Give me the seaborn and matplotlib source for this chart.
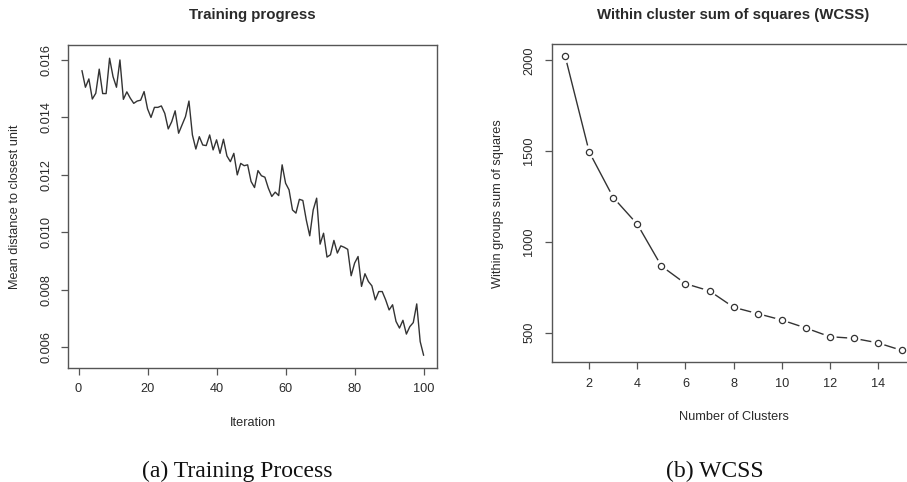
import numpy as np
import pandas as pd
import seaborn as sns
import matplotlib.pyplot as plt

# (a) training progress, mean distance to closest unit per iteration
iterations = list(range(1, 101))
mean_dist = [
    0.01563, 0.01505, 0.01534, 0.01464, 0.01484, 0.01568, 0.01483, 0.01483, 0.01606, 0.01542,
    0.01505, 0.01600, 0.01463, 0.01489, 0.01467, 0.01449, 0.01457, 0.01460, 0.01490, 0.01430,
    0.01400, 0.01435, 0.01435, 0.01440, 0.01414, 0.01360, 0.01385, 0.01423, 0.01345, 0.01374,
    0.01403, 0.01457, 0.01339, 0.01290, 0.01333, 0.01304, 0.01302, 0.01339, 0.01287, 0.01322,
    0.01275, 0.01324, 0.01266, 0.01246, 0.01275, 0.01200, 0.01240, 0.01232, 0.01235, 0.01177,
    0.01156, 0.01215, 0.01197, 0.01192, 0.01154, 0.01125, 0.01140, 0.01128, 0.01235, 0.01171,
    0.01148, 0.01078, 0.01067, 0.01115, 0.01111, 0.01043, 0.00988, 0.01078, 0.01119, 0.00959,
    0.00997, 0.00914, 0.00922, 0.00972, 0.00928, 0.00953, 0.00948, 0.00941, 0.00849, 0.00893,
    0.00916, 0.00812, 0.00856, 0.00829, 0.00814, 0.00765, 0.00794, 0.00794, 0.00765, 0.00730,
    0.00748, 0.00690, 0.00667, 0.00694, 0.00646, 0.00672, 0.00686, 0.00751, 0.00620, 0.00572,
]

# (b) elbow curve
n_clusters = list(range(1, 16))
wcss = [2022, 1495, 1244, 1097, 867, 770, 730, 640, 605, 570, 526, 478, 469, 444, 402]

left_xticks = [0, 20, 40, 60, 80, 100]
left_yticks = [0.006, 0.008, 0.010, 0.012, 0.014, 0.016]
right_xticks = [2, 4, 6, 8, 10, 12, 14]
right_yticks = [500, 1000, 1500, 2000]

sns.set_style("white")
plt.rcParams['font.family'] = ['Liberation Sans', 'DejaVu Sans']

W, H = 907, 482
LINE = '#333333'
BOX = '#555555'
TXT = '#2a2a2a'
FS = 9.2


def px_axes(fig, x0, y0, x1, y1):
    return fig.add_axes([x0 / W, 1 - y1 / H, (x1 - x0) / W, (y1 - y0) / H])


def r_style(ax, xticks, yticks, xfmt, yfmt, xlabel, ylabel, ylab_x):
    ax.set_xticks(xticks)
    ax.set_yticks(yticks)
    ax.set_xticklabels([xfmt(v) for v in xticks])
    ax.set_yticklabels([yfmt(v) for v in yticks])
    for s in ax.spines.values():
        s.set_color(BOX)
        s.set_linewidth(1.0)
        s.set_visible(True)
    ax.tick_params(axis='both', direction='out', length=5, width=0.9, color=BOX,
                   labelsize=FS, labelcolor=TXT, pad=6, bottom=True, left=True)
    plt.setp(ax.get_yticklabels(), rotation=90, va='center', ha='center')
    ax.tick_params(axis='y', pad=11)
    ax.set_xlabel(xlabel, fontsize=FS, color=TXT)
    ax.set_ylabel(ylabel, fontsize=FS, color=TXT)
    h = ax.get_position().height * H
    w = ax.get_position().width * W
    ax.xaxis.set_label_coords(0.5, -55 / h)
    ax.xaxis.label.set_va('center')
    ax.yaxis.set_label_coords(ylab_x / w, 0.5)
    ax.yaxis.label.set_va('center')
    ax.grid(False)


fig = plt.figure(figsize=(W / 100, H / 100), dpi=100)

# panel (a)
ax1 = px_axes(fig, 68.3, 45.3, 437.3, 367.7)
df1 = pd.DataFrame({'Iteration': iterations, 'dist': mean_dist})
sns.lineplot(data=df1, x='Iteration', y='dist', ax=ax1, color=LINE, linewidth=1.0)
ax1.set_xlim(-2.96, 103.96)
ax1.set_ylim(0.00529, 0.01651)
r_style(ax1, left_xticks, left_yticks, lambda v: f"{v:g}", lambda v: f"{v:.3f}",
        'Iteration', 'Mean distance to closest unit', 15 - 68.3)

# panel (b), R type="b": line with gaps around open circles
ax2 = px_axes(fig, 551.7, 44.3, 915.5, 362.3)
df2 = pd.DataFrame({'k': n_clusters, 'wcss': wcss})
sns.lineplot(data=df2, x='k', y='wcss', ax=ax2, color=LINE, linewidth=1.0)
sns.scatterplot(data=df2, x='k', y='wcss', ax=ax2, s=95, color='white',
                edgecolor='none', zorder=3)
sns.scatterplot(data=df2, x='k', y='wcss', ax=ax2, s=20, facecolor='white',
                edgecolor=LINE, linewidth=0.9, zorder=4)
ax2.set_xlim(0.44, 15.56)
ax2.set_ylim(337, 2088)
r_style(ax2, right_xticks, right_yticks, lambda v: f"{v:g}", lambda v: f"{v:g}",
        'Number of Clusters', 'Within groups sum of squares', 498 - 551.7)

# titles and captions
fig.text(252.8 / W, 1 - 15 / H, 'Training progress', ha='center', va='center',
         fontsize=10.8, fontweight='bold', color=TXT)
fig.text(733 / W, 1 - 15 / H, 'Within cluster sum of squares (WCSS)', ha='center',
         va='center', fontsize=10.8, fontweight='bold', color=TXT)
serif = ['Liberation Serif', 'DejaVu Serif']
fig.text(237.2 / W, 1 - 477.5 / H, '(a) Training Process', ha='center', va='baseline',
         fontsize=17, family=serif, color='#111111')
fig.text(714.7 / W, 1 - 477.5 / H, '(b) WCSS', ha='center', va='baseline',
         fontsize=17, family=serif, color='#111111')

fig.savefig('out.png', dpi=100)
